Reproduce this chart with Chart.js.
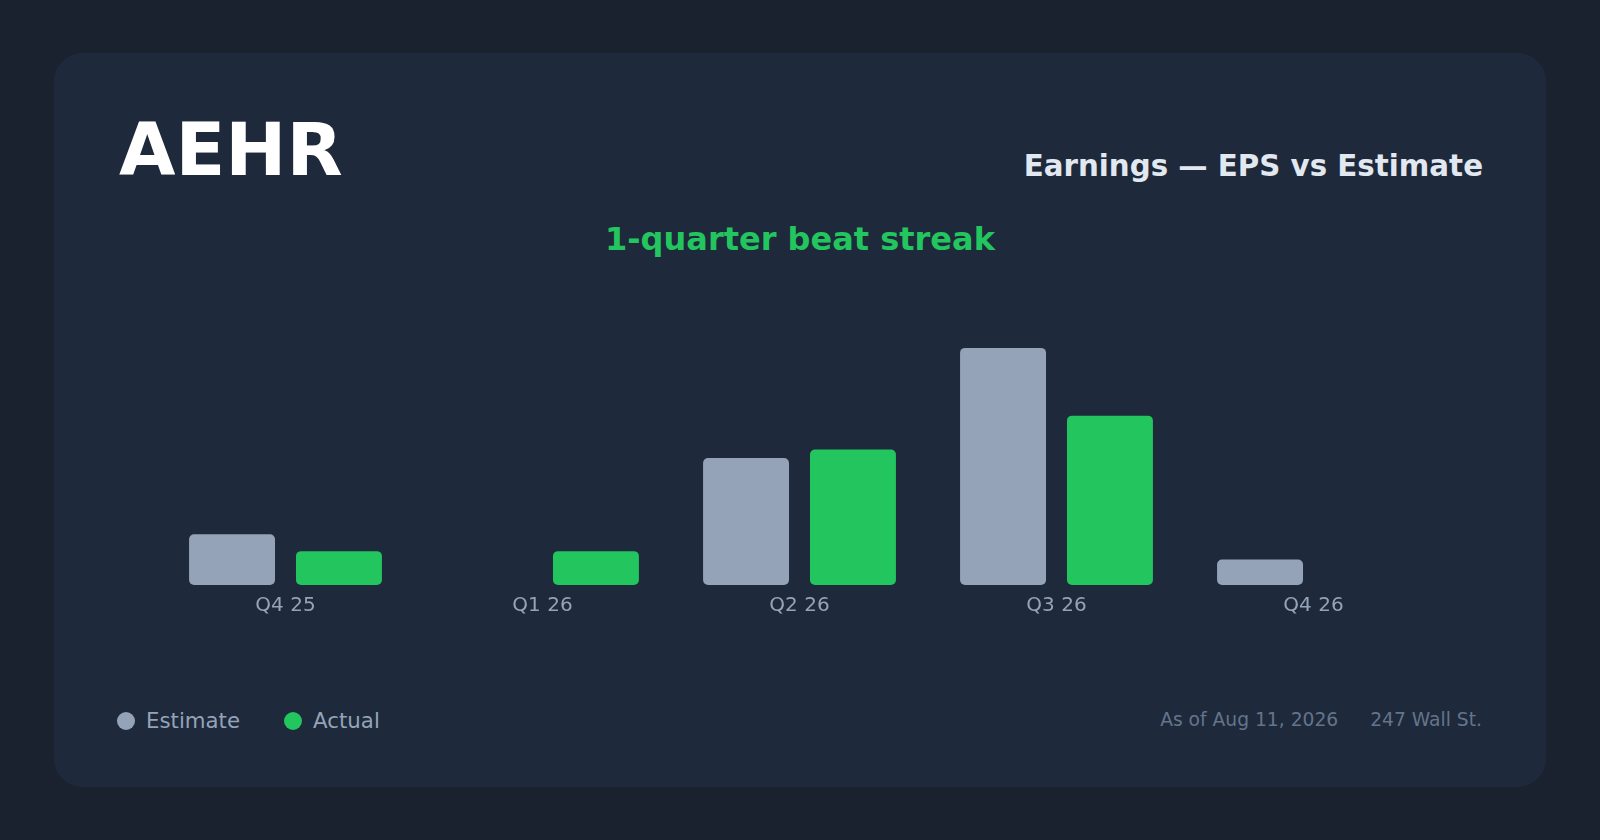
<!DOCTYPE html>
<html lang="en">
<head>
    <meta charset="UTF-8">
    <title>AEHR Earnings - EPS vs Estimate</title>
    <script src="https://cdn.jsdelivr.net/npm/chart.js"></script>
    <style>
        *{
            margin: 0;
            padding: 0;
            box-sizing: border-box;
        }
        body, html{
            width: 1600px;
            height: 840px;
            background-color: #1a212f;
            overflow: hidden;
            font-family: 'DejaVu Sans', sans-serif;
        }
        #card{
            position: absolute;
            left: 54px;
            top: 53px;
            width: 1492px;
            height: 734px;
            border-radius: 28px;
            background-color: #1e293b;
        }
        .txt{
            position: absolute;
            line-height: normal;
            white-space: nowrap;
        }
        #ticker{
            left: 119px;
            top: 107px;
            font-size: 73px;
            font-weight: bold;
            color: #ffffff;
        }
        #title{
            right: 117px;
            top: 149px;
            font-size: 29.3px;
            font-weight: bold;
            color: #e2e8f0;
        }
        #streak{
            left: 0;
            width: 1600px;
            text-align: center;
            top: 220px;
            font-size: 32px;
            font-weight: bold;
            color: #22c55e;
        }
        #chartBox{
            position: absolute;
            left: 157px;
            top: 314px;
            width: 1285px;
            height: 313px;
        }
        #legend{
            left: 117px;
            top: 708px;
            font-size: 21.3px;
            color: #94a3b8;
            display: flex;
            align-items: center;
        }
        .item{
            display: flex;
            align-items: center;
            margin-right: 44px;
        }
        .dot{
            width: 18px;
            height: 18px;
            border-radius: 50%;
            margin-right: 11px;
        }
        #footer{
            right: 118px;
            top: 709px;
            font-size: 18.7px;
            color: #64748b;
        }
        #footer span{
            margin-left: 32px;
        }
    </style>
</head>
<body>
    <div id="card"></div>
    <div class="txt" id="ticker">AEHR</div>
    <div class="txt" id="title">Earnings — EPS vs Estimate</div>
    <div class="txt" id="streak">1-quarter beat streak</div>
    <div id="chartBox"><canvas id="chart"></canvas></div>
    <div class="txt" id="legend"></div>
    <div class="txt" id="footer">As of Aug 11, 2026<span>247 Wall St.</span></div>
    <script>
        // quarters and EPS values
        const quarters = ["Q4 25", "Q1 26", "Q2 26", "Q3 26", "Q4 26"]
        const estimate = [0.06, null, 0.15, 0.28, 0.03]
        const actual = [0.04, 0.04, 0.16, 0.20, null]
        const seriesNames = ["Estimate", "Actual"]
        const seriesColors = ["#94a3b8", "#22c55e"]

        const legend = document.getElementById("legend")
        for (let i in seriesNames){
            const item = document.createElement("div")
            item.className = "item"
            item.innerHTML = '<span class="dot" style="background:' + seriesColors[i] + '"></span>' + seriesNames[i]
            legend.appendChild(item)
        }

        const data = {
            labels: quarters,
            datasets: [{
                label: seriesNames[0],
                data: estimate,
                backgroundColor: seriesColors[0],
                borderRadius: 5,
                borderSkipped: false,
                categoryPercentage: 0.832,
                barPercentage: 0.804
            },
            {
                label: seriesNames[1],
                data: actual,
                backgroundColor: seriesColors[1],
                borderRadius: 5,
                borderSkipped: false,
                categoryPercentage: 0.832,
                barPercentage: 0.804
            }]
        }

        const chart = new Chart(document.getElementById("chart"), {
            type: "bar",
            data: data,
            options: {
                responsive: true,
                maintainAspectRatio: false,
                animation: false,
                devicePixelRatio: 1,
                layout: { padding: 0 },
                plugins: {
                    legend: { display: false },
                    tooltip: { enabled: false }
                },
                scales: {
                    x: {
                        grid: { display: false, drawTicks: false },
                        border: { display: false },
                        ticks: {
                            color: "#94a3b8",
                            padding: 9,
                            font: { family: "DejaVu Sans", size: 20 }
                        }
                    },
                    y: {
                        display: false,
                        min: 0,
                        max: 0.32
                    }
                }
            }
        })
    </script>
</body>
</html>
